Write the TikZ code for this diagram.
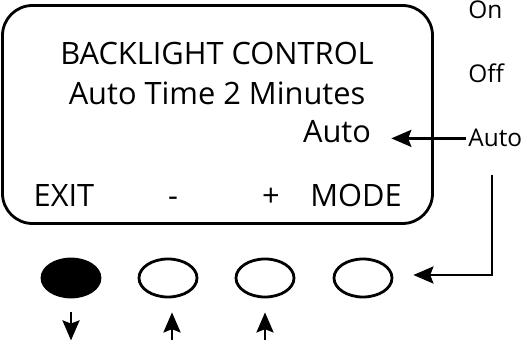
\documentclass[tikz,border=0pt]{standalone}
\usepackage{fontspec}
\setmainfont{Open Sans}
\usetikzlibrary{arrows.meta,shapes.geometric}
\tikzset{
  lcd/.style={anchor=base,inner sep=1pt,font=\fontsize{15.4}{18}\selectfont},
  opt/.style={anchor=base west,inner sep=1pt,font=\fontsize{12.2}{14}\selectfont},
  btn/.style={draw,ellipse,line width=1.4pt,minimum width=29pt,minimum height=19pt,inner sep=0pt},
  pointer/.style={line width=1.4pt,-{Stealth[length=10pt,width=8.5pt,inset=1.6pt]}}
}
\begin{document}
\begin{tikzpicture}[x=0.5pt,y=-0.5pt]
\useasboundingbox (0,0) rectangle (524,346);
% display
\node[draw,line width=1.4pt,rounded corners=15pt,minimum width=215pt,minimum height=109pt] (screen) at (217.5,114.5) {};
\node[lcd] (title) at (217,65) {BACKLIGHT CONTROL};
\node[lcd] (time) at (217,105) {Auto Time 2 Minutes};
\node[lcd] (val) at (337,143) {Auto};
\node[lcd] (exit) at (64,207) {EXIT};
\node[lcd] (minus) at (173,207) {-};
\node[lcd] (plus) at (271,207) {+};
\node[lcd] (mode) at (356,207) {MODE};
% options
\node[opt] (on) at (466,19) {On};
\node[opt] (off) at (466,83) {Off};
\node[opt] (auto) at (466,147) {Auto};
% buttons
\node[btn,fill] (b1) at (71,278) {};
\node[btn] (b2) at (168,278) {};
\node[btn] (b3) at (265,278) {};
\node[btn] (b4) at (363,278) {};
\coordinate (drop) at (492,175);
\coordinate (bend) at (492,275);
% arrows
\draw[pointer,shorten >=9pt] (auto.west) -- (auto.west -| val.east);
\draw[pointer,shorten >=10pt] (drop) -- (bend) -- (bend -| b4.east);
\draw[pointer] ([yshift=-7pt]b1.south) -- ([yshift=-21pt]b1.south);
\draw[pointer] ([xshift=2pt,yshift=-21pt]b2.south) -- ([xshift=2pt,yshift=-7pt]b2.south);
\draw[pointer] ([yshift=-21pt]b3.south) -- ([yshift=-7pt]b3.south);
\end{tikzpicture}
\end{document}
